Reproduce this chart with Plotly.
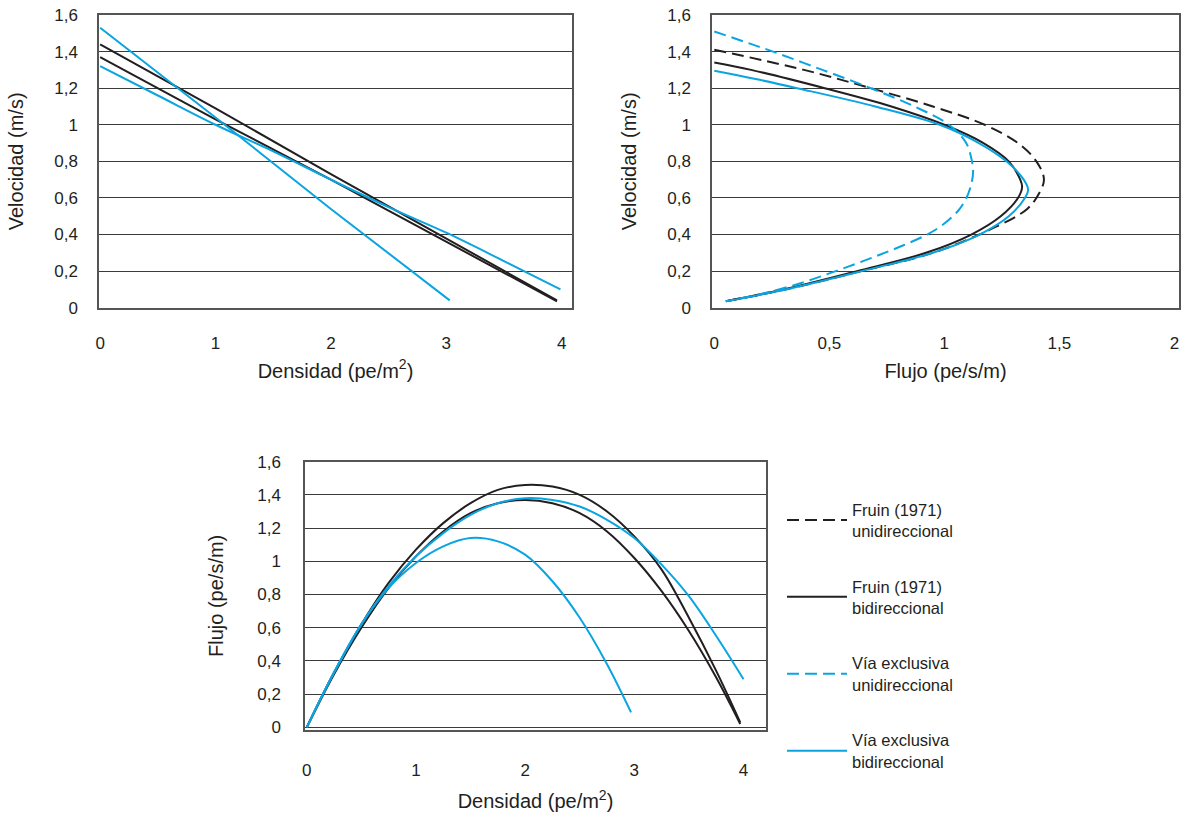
import plotly.graph_objects as go

BLACK = "#231f20"
BLUE = "#0aa5e1"
FONT = "Liberation Sans, Arial, sans-serif"

NAMES = ["Fruin (1971)<br>unidireccional", "Fruin (1971)<br>bidireccional",
         "Vía exclusiva<br>unidireccional", "Vía exclusiva<br>bidireccional"]

# ---------- Top-left: Velocidad (m/s) vs Densidad (pe/m2) ----------
vd_fruin_uni_k = [0, 1.0, 2.0, 3.0, 3.96]
vd_fruin_uni_v = [1.44, 1.09, 0.73, 0.38, 0.04]
vd_fruin_bi_k = [0, 1.0, 2.0, 3.0, 3.96]
vd_fruin_bi_v = [1.37, 1.03, 0.70, 0.36, 0.035]
vd_via_uni_k = [0, 1.0, 2.0, 3.03]
vd_via_uni_v = [1.53, 1.04, 0.54, 0.04]
vd_via_bi_k = [0, 0.5, 1.0, 1.5, 2.0, 2.5, 3.0, 3.5, 3.99]
vd_via_bi_v = [1.32, 1.16, 1.0, 0.855, 0.70, 0.55, 0.41, 0.255, 0.10]

# ---------- Top-right: Velocidad (m/s) vs Flujo (pe/s/m) ----------
vq_fruin_uni_v = [1.41, 1.30, 1.20, 1.10, 1.0, 0.90, 0.80, 0.70, 0.60, 0.54, 0.49, 0.44,
                  0.40, 0.30, 0.20, 0.10, 0.035]
vq_fruin_uni_q = [0, 0.39, 0.68, 0.95, 1.175, 1.32, 1.40, 1.433, 1.40, 1.36, 1.30, 1.22,
                  1.153, 0.95, 0.64, 0.31, 0.05]
vq_fruin_bi_v = [1.34, 1.30, 1.20, 1.10, 1.0, 0.90, 0.80, 0.70, 0.66, 0.60, 0.50, 0.40,
                 0.30, 0.20, 0.10, 0.035]
vq_fruin_bi_q = [0, 0.16, 0.48, 0.77, 1.0, 1.17, 1.28, 1.33, 1.338, 1.32, 1.245, 1.117,
                 0.92, 0.62, 0.30, 0.05]
vq_via_uni_v = [1.51, 1.45, 1.40, 1.30, 1.20, 1.10, 1.0, 0.90, 0.80, 0.743, 0.68, 0.60,
                0.53, 0.45, 0.40, 0.34, 0.28, 0.21, 0.14, 0.08, 0.035]
vq_via_uni_q = [0, 0.14, 0.255, 0.47, 0.68, 0.87, 1.02, 1.095, 1.12, 1.125, 1.118, 1.096,
                1.06, 0.99, 0.925, 0.82, 0.70, 0.55, 0.39, 0.22, 0.05]
vq_via_bi_v = [1.295, 1.25, 1.20, 1.10, 1.0, 0.90, 0.80, 0.70, 0.646, 0.60, 0.50, 0.40,
               0.30, 0.20, 0.10, 0.035]
vq_via_bi_q = [0, 0.18, 0.36, 0.70, 0.98, 1.15, 1.27, 1.345, 1.364, 1.35, 1.28, 1.153,
               0.95, 0.64, 0.31, 0.05]

# ---------- Bottom: Flujo (pe/s/m) vs Densidad (pe/m2) ----------
qd_fruin_k = [0, 0.25, 0.5, 0.75, 1.0, 1.25, 1.5, 1.75, 2.0, 2.25, 2.5, 2.75, 3.0, 3.25,
              3.5, 3.75, 3.97]
qd_fruin_uni_q = [0, 0.33, 0.62, 0.87, 1.07, 1.23, 1.35, 1.43, 1.46, 1.45, 1.40, 1.30, 1.15,
                  0.95, 0.66, 0.34, 0.03]
qd_fruin_bi_q = [0, 0.32, 0.60, 0.84, 1.03, 1.18, 1.29, 1.35, 1.37, 1.35, 1.29, 1.18, 1.02,
                 0.82, 0.58, 0.30, 0.02]
qd_via_bi_k = [0, 0.25, 0.5, 0.75, 1.0, 1.25, 1.5, 1.75, 2.0, 2.25, 2.5, 2.75, 3.0, 3.25,
               3.5, 3.75, 4.0]
qd_via_bi_q = [0, 0.33, 0.62, 0.85, 1.03, 1.17, 1.28, 1.35, 1.38, 1.37, 1.33, 1.25, 1.14,
               0.98, 0.79, 0.55, 0.29]
qd_via_uni_k = [0, 0.25, 0.5, 0.75, 1.0, 1.25, 1.5, 1.75, 2.0, 2.25, 2.5, 2.75, 2.97]
qd_via_uni_q = [0, 0.33, 0.62, 0.84, 0.99, 1.09, 1.14, 1.12, 1.04, 0.88, 0.66, 0.38, 0.09]

# Tick labels
y_tick_vals = [0, 0.2, 0.4, 0.6, 0.8, 1.0, 1.2, 1.4, 1.6]
y_tick_text = ["0", "0,2", "0,4", "0,6", "0,8", "1", "1,2", "1,4", "1,6"]
dens_tick_vals = [0, 1, 2, 3, 4]
dens_tick_text = ["0", "1", "2", "3", "4"]
flow_tick_vals = [0, 0.5, 1.0, 1.5, 2.0]
flow_tick_text = ["0", "0,5", "1", "1,5", "2"]

fig = go.Figure()

def add(x, y, color, dash, xa, ya, name, legend=False, spline=False):
    fig.add_trace(go.Scatter(
        x=x, y=y, mode="lines", name=name, legendgroup=name, showlegend=legend,
        line=dict(color=color, width=2, dash=dash, shape="spline" if spline else "linear",
                  smoothing=1.0),
        xaxis=xa, yaxis=ya, hoverinfo="skip"))

# top-left
add(vd_fruin_uni_k, vd_fruin_uni_v, BLACK, "solid", "x", "y", NAMES[0])
add(vd_fruin_bi_k, vd_fruin_bi_v, BLACK, "solid", "x", "y", NAMES[1])
add(vd_via_uni_k, vd_via_uni_v, BLUE, "solid", "x", "y", NAMES[2])
add(vd_via_bi_k, vd_via_bi_v, BLUE, "solid", "x", "y", NAMES[3], spline=True)

# top-right (carries the legend)
DASH = "12px,6px"
add(vq_fruin_uni_q, vq_fruin_uni_v, BLACK, DASH, "x2", "y2", NAMES[0], legend=True, spline=True)
add(vq_fruin_bi_q, vq_fruin_bi_v, BLACK, "solid", "x2", "y2", NAMES[1], legend=True, spline=True)
add(vq_via_uni_q, vq_via_uni_v, BLUE, DASH, "x2", "y2", NAMES[2], legend=True, spline=True)
add(vq_via_bi_q, vq_via_bi_v, BLUE, "solid", "x2", "y2", NAMES[3], legend=True, spline=True)

# bottom
add(qd_fruin_k, qd_fruin_uni_q, BLACK, "solid", "x3", "y3", NAMES[0], spline=True)
add(qd_fruin_k, qd_fruin_bi_q, BLACK, "solid", "x3", "y3", NAMES[1], spline=True)
add(qd_via_uni_k, qd_via_uni_q, BLUE, "solid", "x3", "y3", NAMES[2], spline=True)
add(qd_via_bi_k, qd_via_bi_q, BLUE, "solid", "x3", "y3", NAMES[3], spline=True)

W, H = 1186, 818
def dx(a, b):
    return [a / W, b / W]
def dy(top, bottom):
    return [1 - bottom / H, 1 - top / H]

tickfont = dict(family=FONT, size=17, color=BLACK)
titlefont = dict(family=FONT, size=20, color=BLACK)

def xaxis(dom, rng, vals, text, title, anchor, tl, so):
    return dict(domain=dom, range=rng, tickvals=vals, ticktext=text, anchor=anchor,
                showgrid=False, zeroline=False, showline=True, mirror=True,
                linecolor="#555555", linewidth=1.5, ticks="outside", ticklen=tl,
                tickcolor="rgba(0,0,0,0)", tickfont=tickfont, automargin=False,
                ticklabeloverflow="allow",
                title=dict(text=title, font=titlefont, standoff=so), fixedrange=True)

def yaxis(dom, rng, title, anchor, tl, so):
    return dict(domain=dom, range=rng, tickvals=y_tick_vals, ticktext=y_tick_text, anchor=anchor,
                showgrid=True, gridcolor="#3a3a3a", gridwidth=1, zeroline=False,
                showline=True, mirror=True, linecolor="#555555", linewidth=1.5,
                ticks="outside", ticklen=tl, tickcolor="rgba(0,0,0,0)", tickfont=tickfont,
                automargin=False, ticklabeloverflow="allow",
                title=dict(text=title, font=titlefont, standoff=so), fixedrange=True)

fig.update_layout(
    width=W, height=H, autosize=False,
    margin=dict(l=0, r=0, t=0, b=0, pad=0),
    paper_bgcolor="white", plot_bgcolor="white",
    separators=",.",
    font=dict(family=FONT, color=BLACK),
    xaxis=xaxis(dx(99, 572), [-0.01, 4.09], dens_tick_vals, dens_tick_text,
                "Densidad (pe/m<sup>2</sup>)", "y", 19, 12),
    yaxis=yaxis(dy(15, 307.7), [0, 1.6], "Velocidad (m/s)", "x", 16, 25),
    xaxis2=xaxis(dx(712, 1179), [-0.01, 2.02], flow_tick_vals, flow_tick_text,
                 "Flujo (pe/s/m)", "y2", 19, 12),
    yaxis2=yaxis(dy(15, 307.7), [0, 1.6], "Velocidad (m/s)", "x2", 16, 25),
    xaxis3=xaxis(dx(305, 766), [-0.016, 4.206], dens_tick_vals, dens_tick_text,
                 "Densidad (pe/m<sup>2</sup>)", "y3", 24, 15),
    yaxis3=yaxis(dy(461.7, 730), [-0.016, 1.6], "Flujo (pe/s/m)", "x3", 19, 28),
    showlegend=True,
    legend=dict(x=782 / W, y=1 - 492 / H, xanchor="left", yanchor="top",
                font=dict(family=FONT, size=16.5, color=BLACK),
                tracegroupgap=31, itemwidth=60, bgcolor="rgba(0,0,0,0)",
                traceorder="grouped"),
)

fig.write_html("out.html", config={"displayModeBar": False},
               post_script="document.body.style.margin='0';document.body.style.overflow='hidden';")
